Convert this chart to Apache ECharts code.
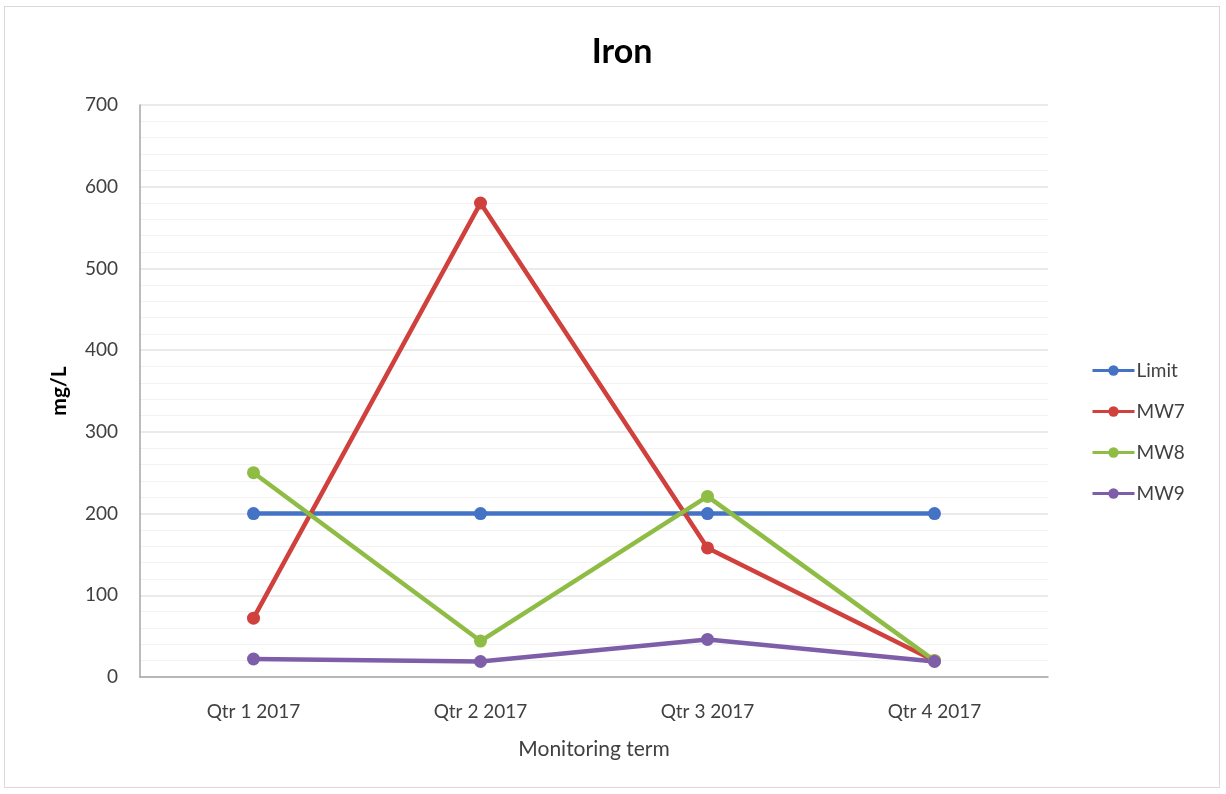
<!DOCTYPE html>
<html>
<head>
<meta charset="utf-8">
<script src="https://cdn.jsdelivr.net/npm/echarts@6/dist/echarts.min.js"></script>
<style>
  html, body { margin: 0; padding: 0; background: #fff; }
  #frame { position: absolute; left: 4px; top: 6px; width: 1216px; height: 782px; border: 1px solid #d9d9d9; box-sizing: border-box; }
  #chart { position: absolute; left: 0; top: 0; width: 1226px; height: 794px; }
</style>
</head>
<body>
<div id="frame"></div>
<div id="chart"></div>
<script>
// Quarterly iron readings (mg/L) per monitoring well, with the regulatory limit
const categories = ['Qtr 1 2017', 'Qtr 2 2017', 'Qtr 3 2017', 'Qtr 4 2017'];
const limit = [200, 200, 200, 200];
const mw7 = [72, 580, 158, 20];
const mw8 = [250, 44, 221, 20];
const mw9 = [22, 19, 46, 19];

const font = 'Lato, "Open Sans", sans-serif';

function lineSeries(name, data, color) {
  return {
    name: name,
    type: 'line',
    data: data,
    symbol: 'circle',
    symbolSize: 13,
    lineStyle: { width: 4.5, color: color },
    itemStyle: { color: color },
    emphasis: { disabled: true }
  };
}

const chart = echarts.init(document.getElementById('chart'), null, { renderer: 'canvas' });
chart.setOption({
  backgroundColor: 'transparent',
  animation: false,
  title: {
    text: 'Iron',
    left: 617,
    textAlign: 'center',
    top: 30,
    textStyle: { fontFamily: font, fontSize: 34, fontWeight: 'bold', color: '#000' }
  },
  legend: {
    orient: 'vertical',
    left: 1086,
    top: 356,
    itemGap: 22,
    itemWidth: 42,
    itemHeight: 13,
    lineStyle: { width: 3 },
    textStyle: { fontFamily: font, fontSize: 19, color: '#404040', padding: [0, 0, 0, -3] },
    data: ['Limit', 'MW7', 'MW8', 'MW9']
  },
  grid: { left: 140, right: 178, top: 105, bottom: 117 },
  xAxis: {
    type: 'category',
    data: categories,
    boundaryGap: true,
    name: 'Monitoring term',
    nameLocation: 'middle',
    nameGap: 62,
    nameTextStyle: { fontFamily: font, fontSize: 21, color: '#404040' },
    axisLine: { lineStyle: { color: '#a6a6a6', width: 1.5 } },
    axisTick: { show: false },
    axisLabel: { fontFamily: font, fontSize: 19, color: '#404040', margin: 25 }
  },
  yAxis: {
    type: 'value',
    min: 0,
    max: 700,
    interval: 100,
    name: 'mg/L',
    nameLocation: 'middle',
    nameGap: 70,
    nameRotate: 90,
    nameTextStyle: { fontFamily: font, fontSize: 21, fontWeight: 'bold', color: '#000' },
    axisLine: { show: true, lineStyle: { color: '#a6a6a6', width: 1.5 } },
    axisTick: { show: false },
    axisLabel: { fontFamily: font, fontSize: 19, color: '#404040', margin: 22 },
    splitLine: { show: true, lineStyle: { color: '#e3e3e3', width: 1.5 } },
    minorTick: { show: false, splitNumber: 5 },
    minorSplitLine: { show: true, lineStyle: { color: '#f2f2f2', width: 1 } }
  },
  series: [
    lineSeries('Limit', limit, '#4472c4'),
    lineSeries('MW7', mw7, '#d0403c'),
    lineSeries('MW8', mw8, '#8fbc45'),
    lineSeries('MW9', mw9, '#7e5ea8')
  ]
});
</script>
</body>
</html>
